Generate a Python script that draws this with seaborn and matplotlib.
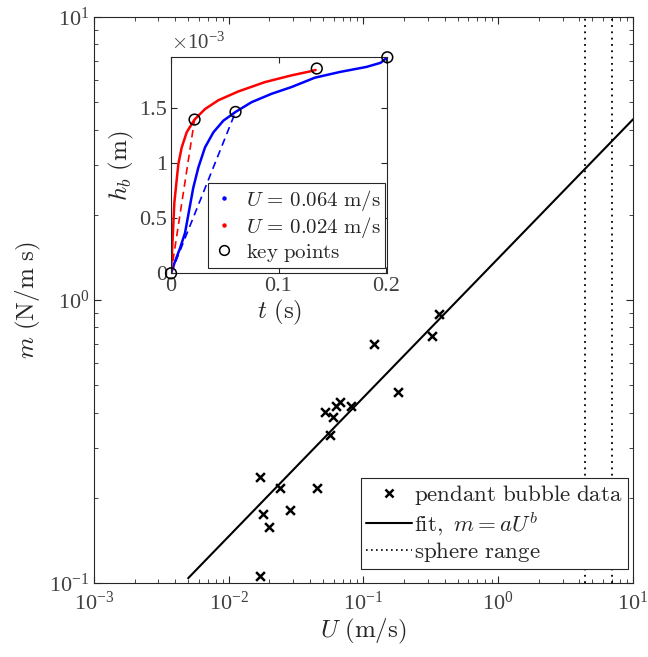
import numpy as np
import pandas as pd
import matplotlib
matplotlib.use("Agg")
import matplotlib.pyplot as plt
import seaborn as sns
from matplotlib.lines import Line2D
from matplotlib.ticker import LogLocator, FixedLocator, NullFormatter

# ---------------- data ----------------
U_data = [0.361, 0.321, 0.119, 0.179, 0.052, 0.0628, 0.0664, 0.0593, 0.0811,
          0.0566, 0.0170, 0.0239, 0.0454, 0.0179, 0.0286, 0.0199, 0.0170]
m_data = [0.892, 0.747, 0.697, 0.472, 0.403, 0.422, 0.435, 0.385, 0.422,
          0.334, 0.236, 0.217, 0.216, 0.176, 0.181, 0.158, 0.106]

fit_U = [0.005, 10.0]
fit_m = [0.104, 4.35]

sphere_U = [4.4, 7.0]

# inset (h in units of 1e-3 m)
red_t = [0.0, 0.0031, 0.0068, 0.0099, 0.0146, 0.0219, 0.0316, 0.044, 0.0626,
         0.0874, 0.1121, 0.1307, 0.1345]
red_h = [0.0, 0.64, 0.99, 1.14, 1.28, 1.395, 1.49, 1.57, 1.65,
         1.735, 1.796, 1.835, 1.845]
blue_t = [0.0, 0.0037, 0.0084, 0.013, 0.0167, 0.0207, 0.0254, 0.0316, 0.0394,
          0.0487, 0.060, 0.075, 0.0936, 0.1121, 0.1338, 0.1572, 0.182, 0.195,
          0.2012]
blue_h = [0.0, 0.107, 0.228, 0.365, 0.563, 0.776, 0.959, 1.142, 1.279,
          1.385, 1.464, 1.553, 1.629, 1.690, 1.775, 1.827, 1.873, 1.910,
          1.960]
red_dash_t = [0.0, 0.0219]
red_dash_h = [0.0, 1.395]
blue_dash_t = [0.0, 0.060]
blue_dash_h = [0.0, 1.464]
key_t = [0.0, 0.0219, 0.1356, 0.060, 0.2012]
key_h = [0.0, 1.395, 1.858, 1.464, 1.960]

main_xticks = [1e-3, 1e-2, 1e-1, 1e0, 1e1]
main_yticks = [1e-1, 1e0, 1e1]
inset_xticks = [0, 0.1, 0.2]
inset_xticklabels = ["0", "0.1", "0.2"]
inset_yticks = [0, 0.5, 1.0, 1.5]
inset_yticklabels = ["0", "0.5", "1", "1.5"]

# ---------------- style ----------------
sns.set_theme(style="white")
plt.rcParams["font.family"] = ["Liberation Serif", "DejaVu Serif"]
plt.rcParams["mathtext.fontset"] = "cm"
AX = "#262626"
TICK = "#404040"

fig = plt.figure(figsize=(6.48, 6.57), dpi=100)
fig.patch.set_facecolor("white")
ax = fig.add_axes([0.145, 0.1126, 0.8319, 0.8615])
ax.set_facecolor("white")

df = pd.DataFrame({"U": U_data, "m": m_data})
sns.scatterplot(data=df, x="U", y="m", marker="x", s=40, color="black",
                linewidth=1.8, ax=ax, zorder=3, legend=False)
fdf = pd.DataFrame({"U": fit_U, "m": fit_m})
sns.lineplot(data=fdf, x="U", y="m", color="black", lw=1.5, ax=ax,
             sort=False, legend=False)
for xv in sphere_U:
    ax.axvline(xv, color="black", ls=(0, (1, 2.5)), lw=1.3)

ax.set_xscale("log")
ax.set_yscale("log")
ax.set_xlim(1e-3, 1e1)
ax.set_ylim(1e-1, 1e1)
ax.set_xticks(main_xticks)
ax.set_yticks(main_yticks)
ax.xaxis.set_minor_locator(LogLocator(base=10, subs=np.arange(2, 10), numticks=20))
ax.yaxis.set_minor_locator(LogLocator(base=10, subs=np.arange(2, 10), numticks=20))
ax.xaxis.set_minor_formatter(NullFormatter())
ax.yaxis.set_minor_formatter(NullFormatter())
ax.tick_params(which="both", direction="in", top=True, right=True, bottom=True,
               left=True, colors=AX, labelcolor=TICK, labelsize=16)
ax.tick_params(which="major", length=5, width=0.8)
ax.tick_params(which="minor", length=3, width=0.6)
ax.tick_params(axis="x", pad=6)
for sp in ax.spines.values():
    sp.set_color(AX)
    sp.set_linewidth(0.8)
ax.set_xlabel(r"$U\ \mathrm{(m/s)}$", fontsize=18, color=AX, labelpad=2)
ax.set_ylabel(r"$m\ \mathrm{(N/m\ s)}$", fontsize=18, color=AX, labelpad=4)

handles = [
    Line2D([], [], marker="x", ls="none", color="black", markersize=6, mew=1.8),
    Line2D([], [], color="black", lw=1.5),
    Line2D([], [], color="black", lw=1.2, ls=(0, (1, 2))),
]
labels = [r"$\mathrm{pendant\ bubble\ data}$", r"$\mathrm{fit,}\ m = aU^b$",
          r"$\mathrm{sphere\ range}$"]
leg = ax.legend(handles, labels, loc="lower right", bbox_to_anchor=(0.99, 0.025),
                fontsize=16.5, frameon=True, fancybox=False, framealpha=1,
                edgecolor=AX, handlelength=2.0, handletextpad=0.12,
                borderpad=0.2, labelspacing=0.12, borderaxespad=0.0)
leg.get_frame().set_linewidth(0.8)

# ---------------- inset ----------------
ins = fig.add_axes([0.2639, 0.584, 0.3338, 0.3288])
ins.set_facecolor("white")
sns.lineplot(x=blue_t, y=blue_h, color="blue", lw=1.8, ax=ins, sort=False,
             legend=False)
sns.lineplot(x=red_t, y=red_h, color="red", lw=1.8, ax=ins, sort=False,
             legend=False)
sns.lineplot(x=blue_dash_t, y=blue_dash_h, color="blue", lw=1.2, ax=ins,
             sort=False, legend=False, linestyle=(0, (4.5, 3)))
sns.lineplot(x=red_dash_t, y=red_dash_h, color="red", lw=1.2, ax=ins,
             sort=False, legend=False, linestyle=(0, (4.5, 3)))
sns.scatterplot(x=key_t, y=key_h, marker="o", s=60, facecolor="none",
                edgecolor="black", linewidth=1.1, ax=ins, zorder=5, legend=False,
                clip_on=False)
ins.set_xlim(0, 0.2012)
ins.set_ylim(0, 1.96)
ins.xaxis.set_major_locator(FixedLocator(inset_xticks))
ins.set_xticklabels(inset_xticklabels)
ins.yaxis.set_major_locator(FixedLocator(inset_yticks))
ins.set_yticklabels(inset_yticklabels)
ins.tick_params(which="both", direction="in", top=True, right=True, bottom=True,
                left=True, colors=AX, labelcolor=TICK, labelsize=16, length=4,
                width=0.8, pad=3)
for sp in ins.spines.values():
    sp.set_color(AX)
    sp.set_linewidth(0.8)
ins.set_xlabel(r"$t\ \mathrm{(s)}$", fontsize=18, color=AX, labelpad=1)
ins.set_ylabel(r"$h_b\ \mathrm{(m)}$", fontsize=18, color=AX, labelpad=2)
ins.text(0.0, 1.015, r"$\times\mathdefault{10^{-3}}$", transform=ins.transAxes,
         fontsize=15, color=TICK, ha="left", va="bottom")

ihandles = [
    Line2D([], [], marker="o", ls="none", color="blue", markersize=2.2),
    Line2D([], [], marker="o", ls="none", color="red", markersize=2.2),
    Line2D([], [], marker="o", ls="none", markerfacecolor="none",
           markeredgecolor="black", markersize=7, mew=1.1),
]
ilabels = [r"$U\,=\,0.064\ \mathrm{m/s}$", r"$U\,=\,0.024\ \mathrm{m/s}$",
           r"$\mathrm{key\ points}$"]
ileg = ins.legend(ihandles, ilabels, loc="lower right", bbox_to_anchor=(0.99, 0.025),
                  fontsize=15, frameon=True, fancybox=False, framealpha=1,
                  edgecolor=AX, handlelength=1.2, handletextpad=0.45,
                  borderpad=0.2, labelspacing=0.1, borderaxespad=0.0)
ileg.get_frame().set_linewidth(0.8)

fig.savefig("out.png", dpi=100, facecolor="white")
